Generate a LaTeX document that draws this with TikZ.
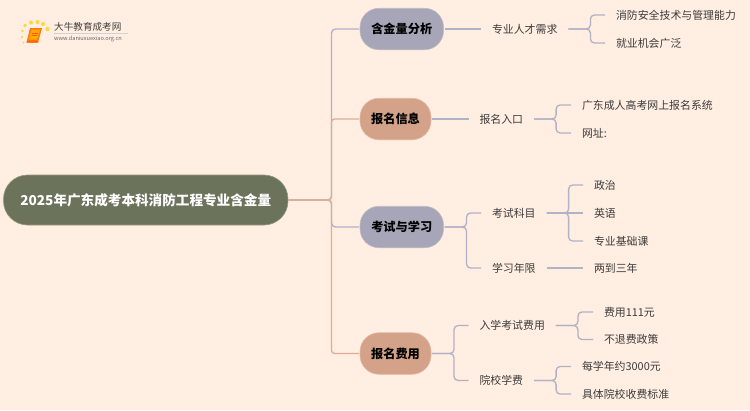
\documentclass[tikz,border=0pt]{standalone}
\usepackage{fontspec}
\setmainfont{Noto Sans CJK SC}
\definecolor{bgc}{HTML}{FFEEE1}
\definecolor{rootc}{HTML}{6B735A}
\definecolor{greyc}{HTML}{A6A6B8}
\definecolor{orc}{HTML}{D3A288}
\definecolor{lnorange}{HTML}{DDAE95}
\definecolor{lngrey}{HTML}{B2B2C6}
\definecolor{txtc}{HTML}{3C3C3C}
\tikzset{
  x=1pt,y=-1pt,
  rootbox/.style={draw=rootc!70!bgc,line width=.6pt,fill=rootc,rounded corners=24pt,minimum width=284.5pt,minimum height=50pt,text=white,font=\fontsize{13.6}{16}\selectfont\bfseries,inner sep=0pt,outer sep=.5pt},
  greybox/.style={draw=greyc!70!bgc,line width=.6pt,fill=greyc,rounded corners=19pt,minimum height=41.5pt,inner sep=0pt,outer sep=1pt,font=\fontsize{12.2}{15}\selectfont\bfseries,text=black},
  orbox/.style={greybox,draw=orc!70!bgc,fill=orc},
  leaf/.style={anchor=west,inner xsep=11pt,inner ysep=0pt,outer sep=0pt,font=\fontsize{10.9}{13}\selectfont,text=txtc},
  conn/.style={draw=lngrey,line width=1.3pt,rounded corners=4pt},
  main/.style={draw=lnorange,line width=1.3pt,rounded corners=3pt},
}
\begin{document}
\begin{tikzpicture}
\fill[bgc] (0,0) rectangle (750,410);
\useasboundingbox (0,0) rectangle (750,410);
% logo
\foreach \p/\r in {{25,25.5}/1.8,{31,22.5}/2,{37.5,22}/2,{43,24}/2,{47.5,29}/2.2,{22.5,31}/1.4,{22,37}/1.2,{23.5,42.5}/1}
  \fill[yellow!70!orange!75!bgc] (\p) circle (\r);
\fill[orange!85!red!90!bgc] (30,28) -- (42,28) -- (38,42.5) -- (26.5,42.5) -- cycle;
\fill[orange!65!yellow] (31.5,29.5) -- (40,29.5) -- (37,39.5) -- (29,39.5) -- cycle;
\draw[orange!70!red,line width=.6pt] (32,33) -- (37.5,33) (31.5,35.5) -- (36.5,35.5);
\fill[orange!80!red] (26.5,42.5) -- (38,42.5) -- (38.5,40.5) -- (27.5,40.5) -- cycle;
\node[inner sep=0pt,anchor=west,text=black!75,font=\fontsize{9.6}{11}\selectfont] (logotitle) at (54,27) {大牛教育成考网};
\node[inner sep=0pt,anchor=west,text=black!60,font=\fontsize{5.6}{7}\selectfont] (logourl) at (54,39) {www.daniuxuexiao.org.cn};
\draw[black!18,line width=.5pt] (54,33.5) -- (128,33.5);

\node[rootbox] (root) at (145.75,200) {2025年广东成考本科消防工程专业含金量};
\node[greybox,minimum width=83.5pt] (a) at (401.75,29) {含金量分析};
\node[orbox,minimum width=71pt] (b) at (395.5,119) {报名信息};
\node[greybox,minimum width=83.5pt] (c) at (401.75,227) {考试与学习};
\node[orbox,minimum width=71pt] (d) at (395.5,353.5) {报名费用};

\node[leaf] (a1) at (481,29) {专业人才需求};
\node[leaf] (a11) at (605,15) {消防安全技术与管理能力};
\node[leaf] (a12) at (605,43) {就业机会广泛};
\node[leaf] (b1) at (468.5,119) {报名入口};
\node[leaf] (b11) at (571,105) {广东成人高考网上报名系统};
\node[leaf] (b12) at (571,133) {网址:};
\node[leaf] (c1) at (481,213) {考试科目};
\node[leaf] (c2) at (481,268) {学习年限};
\node[leaf] (c11) at (583,185) {政治};
\node[leaf] (c12) at (583,213) {英语};
\node[leaf] (c13) at (583,241) {专业基础课};
\node[leaf] (c21) at (583,268) {两到三年};
\node[leaf] (d1) at (468.5,325.5) {入学考试费用};
\node[leaf] (d2) at (468.5,380.5) {院校学费};
\node[leaf] (d11) at (593,312) {费用111元};
\node[leaf] (d12) at (593,339.5) {不退费政策};
\node[leaf] (d21) at (571,366.5) {每学年约3000元};
\node[leaf] (d22) at (571,394) {具体院校收费标准};

% trunk
\draw[conn] (root.east) -- ++(43,0) |- (a.west);
\draw[conn] (root.east) -- ++(43,0) |- (c.west);
\draw[main] (root.east) -- ++(43,0) |- (b.west);
\draw[main] (root.east) -- ++(43,0) |- (d.west);
% second level
\draw[conn] (a.east) -- (a1.west);
\draw[conn] (b.east) -- (b1.west);
\draw[conn] (c.east) -- ++(22,0) |- (c1.west);
\draw[conn] (c.east) -- ++(22,0) |- (c2.west);
\draw[conn] (d.east) -- ++(22,0) |- (d1.west);
\draw[conn] (d.east) -- ++(22,0) |- (d2.west);
% third level
\draw[conn] (a1.east) -- ++(22,0) |- (a11.west);
\draw[conn] (a1.east) -- ++(22,0) |- (a12.west);
\draw[conn] (b1.east) -- ++(22,0) |- (b11.west);
\draw[conn] (b1.east) -- ++(22,0) |- (b12.west);
\draw[conn] (c1.east) -- ++(22,0) |- (c11.west);
\draw[conn] (c1.east) -- (c12.west);
\draw[conn] (c1.east) -- ++(22,0) |- (c13.west);
\draw[conn] (c2.east) -- (c21.west);
\draw[conn] (d1.east) -- ++(22,0) |- (d11.west);
\draw[conn] (d1.east) -- ++(22,0) |- (d12.west);
\draw[conn] (d2.east) -- ++(22,0) |- (d21.west);
\draw[conn] (d2.east) -- ++(22,0) |- (d22.west);
\end{tikzpicture}
\end{document}
